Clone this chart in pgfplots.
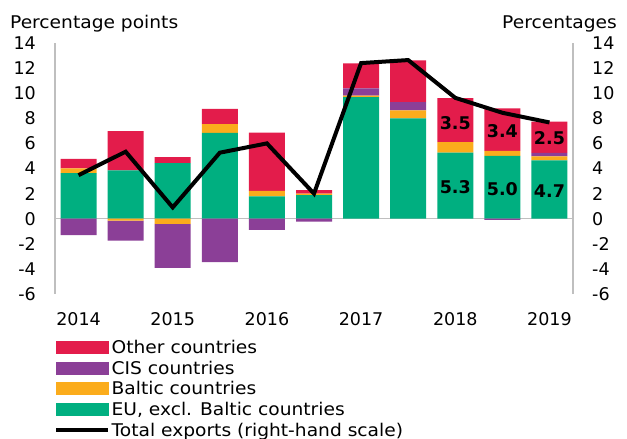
\documentclass[border=0pt]{standalone}
\usepackage{pgfplots}
\pgfplotsset{compat=1.18}
\usepackage{fontspec}
\setmainfont{DejaVu Sans}
\newfontfamily\widefont{DejaVu Sans}[FakeStretch=1.065]
\definecolor{cred}{RGB}{227,28,75}
\definecolor{cpur}{RGB}{139,63,151}
\definecolor{cyel}{RGB}{251,172,28}
\definecolor{cgrn}{RGB}{0,175,128}
\definecolor{cax}{RGB}{191,191,191}
\newcommand{\fs}{\fontsize{17.5}{21}\selectfont}
\newcommand{\fw}{\widefont\fontsize{17.5}{21}\selectfont}
\pgfplotsset{
  base/.style={scale only axis, width=518pt, height=251pt, xmin=-0.5, xmax=10.5,
    ymin=-6, ymax=14, clip=false, at={(0pt,0pt)}, anchor=south west},
}
\begin{document}
\begin{tikzpicture}
\useasboundingbox (-55pt,-145pt) rectangle (572pt,294pt);
% axis decorations and zero line
\begin{axis}[base, name=ax,
  axis x line*=bottom, x axis line style={draw=none},
  axis y line*=left, y axis line style={-, draw=cax, line width=1.3pt},
  major tick length=0pt,
  xtick={0,2,4,6,8,10}, xticklabels={2014,2015,2016,2017,2018,2019},
  ytick={-6,-4,...,14}, yticklabels={-6,-4,-2,0,2,4,6,8,10,12,14},
  ticklabel style={font=\fs, inner sep=0pt},
  yticklabel style={anchor=east, xshift=-19pt},
  xticklabel style={anchor=north, yshift=-18pt},
]
\addplot[cax, line width=1.3pt, mark=none] coordinates {(-0.5,0) (10.5,0)};
\end{axis}
% positive stacks
\begin{axis}[base, hide axis, ybar stacked, bar width=36pt]
\addplot[fill=cgrn, draw=none] coordinates {(0,3.63) (1,3.86) (2,4.42) (3,6.83) (4,1.77) (5,1.88) (6,9.68) (7,7.99) (8,5.26) (9,5.0) (10,4.65)};
\addplot[fill=cyel, draw=none] coordinates {(0,0.37) (1,0) (2,0) (3,0.71) (4,0.45) (5,0.12) (6,0.13) (7,0.64) (8,0.85) (9,0.4) (10,0.32)};
\addplot[fill=cpur, draw=none] coordinates {(0,0) (1,0) (2,0) (3,0) (4,0) (5,0) (6,0.57) (7,0.66) (8,0) (9,0) (10,0.27)};
\addplot[fill=cred, draw=none] coordinates {(0,0.76) (1,3.12) (2,0.48) (3,1.21) (4,4.63) (5,0.27) (6,2.0) (7,3.33) (8,3.5) (9,3.4) (10,2.5)};
\end{axis}
% negative stacks
\begin{axis}[base, hide axis, ybar stacked, bar width=36pt]
\addplot[fill=cgrn, draw=none] coordinates {(0,0) (1,0) (2,0) (3,0) (4,0) (5,0) (6,0) (7,0) (8,0) (9,0) (10,0)};
\addplot[fill=cyel, draw=none] coordinates {(0,0) (1,-0.15) (2,-0.42) (3,0) (4,0) (5,0) (6,0) (7,0) (8,0) (9,0) (10,0)};
\addplot[fill=cpur, draw=none] coordinates {(0,-1.3) (1,-1.6) (2,-3.5) (3,-3.47) (4,-0.9) (5,-0.24) (6,0) (7,0) (8,0) (9,-0.1) (10,0)};
\end{axis}
% line, labels, right axis, legend
\begin{axis}[base,
  axis x line=none,
  axis y line*=right, y axis line style={-, draw=cax, line width=1.3pt},
  major tick length=0pt,
  ytick={-6,-4,...,14}, yticklabels={-6,-4,-2,0,2,4,6,8,10,12,14},
  yticklabel style={font=\fs, inner sep=0pt, anchor=west, xshift=19pt},
  legend style={at={(rel axis cs:0,0)}, anchor=north west, xshift=-1pt, yshift=-46.6pt,
    draw=none, fill=none, inner sep=0pt, font=\fw,
    nodes={inner sep=0pt, text height=12.8pt, text depth=0pt},
    row sep=7.8pt, column sep=1.5pt},
  legend cell align=left,
]
\addplot[forget plot, black, line width=4pt, mark=none] coordinates {(0,3.47) (1,5.34) (2,0.9) (3,5.26) (4,6.0) (5,2.0) (6,12.4) (7,12.64) (8,9.63) (9,8.44) (10,7.67)};
\addplot[forget plot, draw=none, mark=none, nodes near coords, point meta=explicit symbolic,
  nodes near coords align=center,
  every node near coord/.append style={anchor=center, font=\fs\bfseries, text=black, inner sep=0pt}]
  coordinates {(8,7.6)[3.5] (9,6.98)[3.4] (10,6.45)[2.5] (8,2.54)[5.3] (9,2.36)[5.0] (10,2.17)[4.7]};
\addlegendimage{legend image code/.code={\fill[cred] (0pt,-6pt) rectangle (52pt,6pt);}}
\addlegendentry{Other countries}
\addlegendimage{legend image code/.code={\fill[cpur] (0pt,-6pt) rectangle (52pt,6pt);}}
\addlegendentry{CIS countries}
\addlegendimage{legend image code/.code={\fill[cyel] (0pt,-6pt) rectangle (52pt,6pt);}}
\addlegendentry{Baltic countries}
\addlegendimage{legend image code/.code={\fill[cgrn] (0pt,-6pt) rectangle (52pt,6pt);}}
\addlegendentry{EU, excl. Baltic countries}
\addlegendimage{legend image code/.code={\draw[black, line width=4pt] (0pt,0pt) -- (52pt,0pt);}}
\addlegendentry{Total exports (right-hand scale)}
\end{axis}
\node[anchor=base west, font=\fw, inner sep=0pt] at (-45pt,265.5pt) {Percentage points};
\node[anchor=base east, font=\fw, inner sep=0pt] at (562pt,265.5pt) {Percentages};
\end{tikzpicture}
\end{document}
